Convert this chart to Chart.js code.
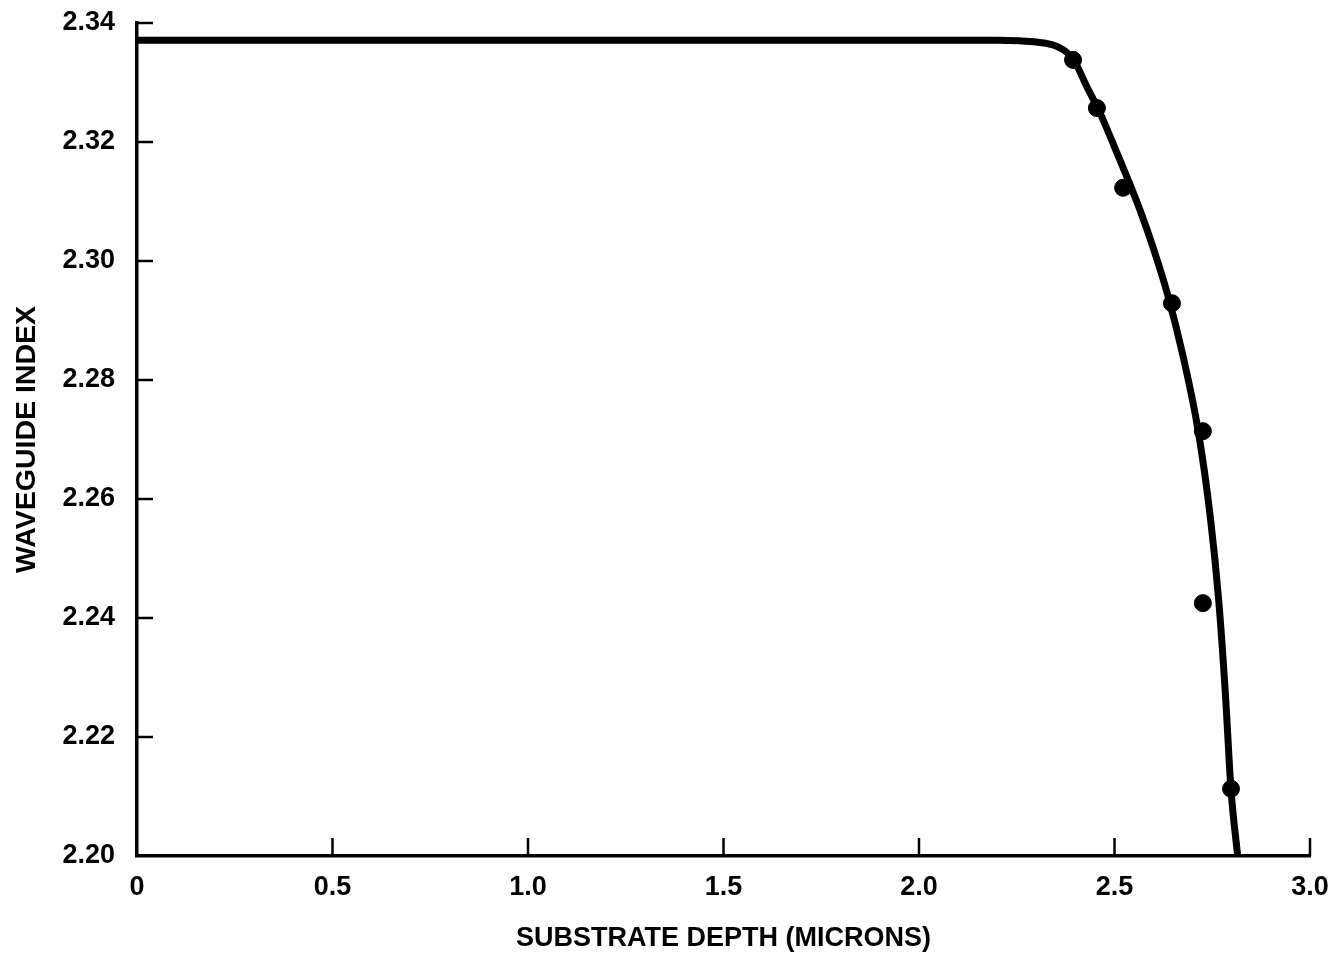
<!DOCTYPE html>
<html>
<head>
<meta charset="utf-8">
<title>Waveguide index vs substrate depth</title>
<script src="https://cdn.jsdelivr.net/npm/chart.js@4/dist/chart.umd.min.js"></script>
<style>
    html, body { margin: 0; padding: 0; background: #fff; }
    .wrap { width: 1332px; height: 955px; position: relative; }
</style>
</head>
<body>
<div class="wrap"><canvas id="indexChart"></canvas></div>
<script>
// Данные
const curveDepth = [0, 1.00, 2.20, 2.258, 2.300, 2.343, 2.379, 2.399, 2.430, 2.463, 2.496, 2.532, 2.565, 2.598, 2.634, 2.675, 2.714, 2.745, 2.767, 2.784, 2.798, 2.815];
const curveIndex = [2.3371, 2.3371, 2.3371, 2.3370, 2.3368, 2.3363, 2.3350, 2.3334, 2.3292, 2.3249, 2.3198, 2.3141, 2.3086, 2.3024, 2.2948, 2.2841, 2.2715, 2.2570, 2.2426, 2.2268, 2.2111, 2.2000];

const measuredDepth = [2.394, 2.455, 2.522, 2.647, 2.726, 2.726, 2.798];
const measuredIndex = [2.3338, 2.3257, 2.3123, 2.2929, 2.2714, 2.2425, 2.2113];

const xTickValues = [0, 0.5, 1.0, 1.5, 2.0, 2.5, 3.0];
const yTickValues = [2.20, 2.22, 2.24, 2.26, 2.28, 2.30, 2.32, 2.34];

const FONT = "'Liberation Sans', Arial, Helvetica, sans-serif";

// Фиксированный размер оси без добавочных отступов под подписи
function fixBox(scale, size) {
    if (scale.isHorizontal()) {
        scale.height = size;
    } else {
        scale.width = size;
    }
    scale.paddingTop = 0;
    scale.paddingBottom = 0;
    scale.paddingLeft = 0;
    scale.paddingRight = 0;
}

// Засечки внутрь области графика
const inwardTicks = {
    id: 'inwardTicks',
    afterDatasetsDraw(chart) {
        const { ctx, chartArea, scales } = chart;
        ctx.save();
        ctx.strokeStyle = '#000';
        ctx.lineWidth = 2.5;
        ctx.beginPath();
        xTickValues.slice(1).forEach(v => {
            const px = scales.x.getPixelForValue(v);
            ctx.moveTo(px, chartArea.bottom);
            ctx.lineTo(px, chartArea.bottom - 18);
        });
        yTickValues.slice(1).forEach(v => {
            const py = scales.y.getPixelForValue(v);
            ctx.moveTo(chartArea.left, py);
            ctx.lineTo(chartArea.left + 16, py);
        });
        ctx.stroke();
        ctx.restore();
    }
};

const ctx = document.getElementById('indexChart');

new Chart(ctx, {
    type: 'scatter',
    data: {
        datasets: [
            {
                label: 'measured',
                data: measuredDepth.map((x, i) => ({ x: x, y: measuredIndex[i] })),
                backgroundColor: '#000',
                borderColor: '#000',
                pointRadius: 8.5,
                showLine: false
            },
            {
                label: 'curve',
                data: curveDepth.map((x, i) => ({ x: x, y: curveIndex[i] })),
                showLine: true,
                borderColor: '#000',
                borderWidth: 7,
                pointRadius: 0,
                cubicInterpolationMode: 'monotone',
                borderCapStyle: 'round'
            }
        ]
    },
    options: {
        responsive: true,
        maintainAspectRatio: false,
        animation: false,
        layout: { padding: { left: 0, top: 23, right: 22, bottom: 0 } },
        plugins: {
            legend: { display: false },
            tooltip: { enabled: false }
        },
        scales: {
            x: {
                type: 'linear',
                min: 0,
                max: 3.0,
                afterFit: s => fixBox(s, 99),
                afterBuildTicks: s => { s.ticks = xTickValues.map(v => ({ value: v })); },
                grid: { display: true, drawOnChartArea: false, drawTicks: false },
                border: { display: true, color: '#000', width: 3.5 },
                ticks: {
                    color: '#000',
                    padding: 15,
                    maxRotation: 0,
                    font: { family: FONT, size: 27, weight: 'bold' },
                    callback: v => v === 0 ? '0' : v.toFixed(1)
                },
                title: {
                    display: true,
                    text: 'SUBSTRATE DEPTH (MICRONS)',
                    color: '#000',
                    padding: { top: 0, bottom: 0 },
                    font: { family: FONT, size: 27, weight: 'bold' }
                }
            },
            y: {
                type: 'linear',
                min: 2.20,
                max: 2.34,
                afterFit: s => fixBox(s, 137),
                afterBuildTicks: s => { s.ticks = yTickValues.map(v => ({ value: v })); },
                grid: { display: true, drawOnChartArea: false, drawTicks: false },
                border: { display: true, color: '#000', width: 3.5 },
                ticks: {
                    color: '#000',
                    padding: 22,
                    font: { family: FONT, size: 27, weight: 'bold' },
                    callback: v => v.toFixed(2)
                },
                title: {
                    display: true,
                    text: 'WAVEGUIDE INDEX',
                    color: '#000',
                    padding: { top: 10, bottom: 0 },
                    font: { family: FONT, size: 28.5, weight: 'bold' }
                }
            }
        }
    },
    plugins: [inwardTicks]
});
</script>
</body>
</html>
